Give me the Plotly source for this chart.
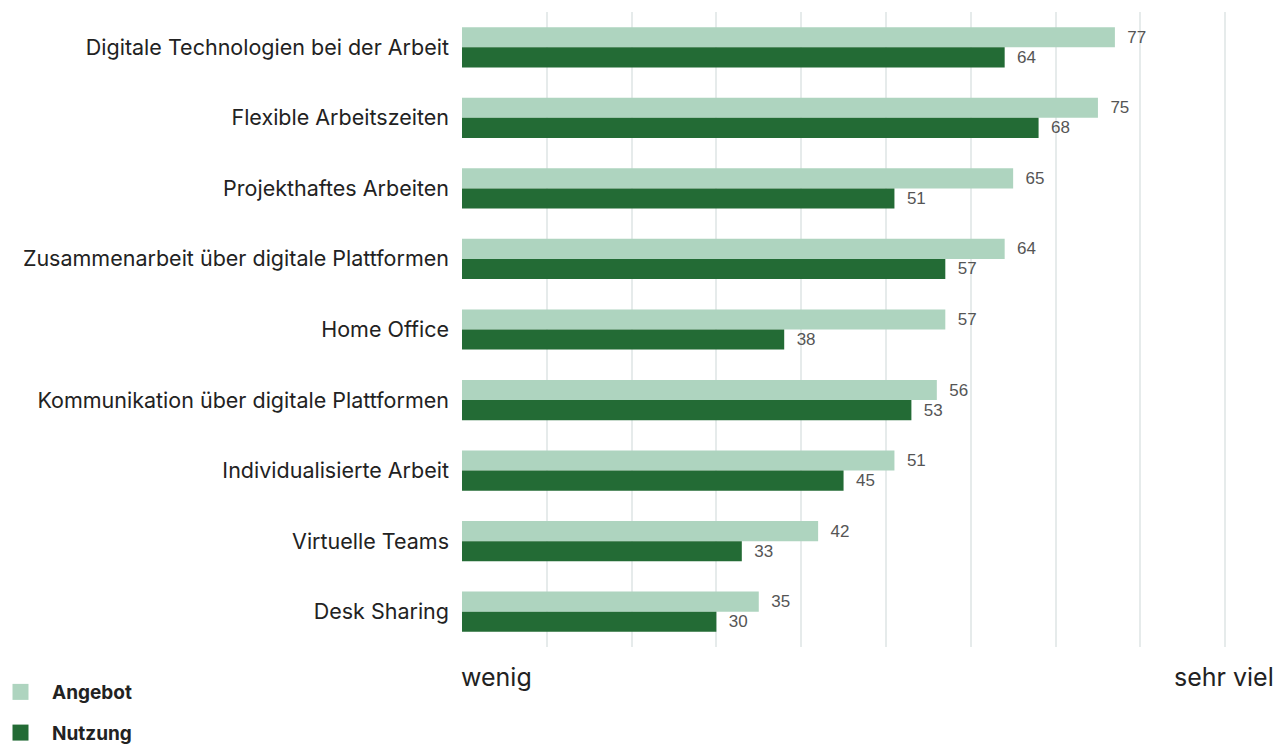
import plotly.graph_objects as go

categories = [
    "Digitale Technologien bei der Arbeit",
    "Flexible Arbeitszeiten",
    "Projekthaftes Arbeiten",
    "Zusammenarbeit über digitale Plattformen",
    "Home Office",
    "Kommunikation über digitale Plattformen",
    "Individualisierte Arbeit",
    "Virtuelle Teams",
    "Desk Sharing",
]
angebot = [77, 75, 65, 64, 57, 56, 51, 42, 35]
nutzung = [64, 68, 51, 57, 38, 53, 45, 33, 30]
series_names = ["Angebot", "Nutzung"]
axis_labels = ["wenig", "sehr viel"]

c_light = "#aed4bf"
c_dark = "#236b35"
font_main = "Inter, Open Sans, sans-serif"

fig = go.Figure()
for name, vals, col in [(series_names[0], angebot, c_light), (series_names[1], nutzung, c_dark)]:
    fig.add_trace(go.Bar(
        y=categories, x=vals, orientation="h", name=name,
        marker=dict(color=col, line=dict(width=0)),
        text=["\u00a0\u00a0" + str(v) for v in vals], textposition="outside",
        textfont=dict(family="Liberation Sans Narrow, Liberation Sans, Arial, sans-serif", size=17, color="#555555"),
        cliponaxis=False, showlegend=False,
    ))
    fig.add_trace(go.Scatter(
        x=[None], y=[None], mode="markers", name=name,
        marker=dict(symbol="square", size=20, color=col),
        legendgroup=name, showlegend=True,
    ))

fig.update_layout(
    width=1287, height=749,
    margin=dict(l=462, r=11, t=12, b=102, autoexpand=False),
    paper_bgcolor="white", plot_bgcolor="white",
    barmode="group", bargap=0.43, bargroupgap=0,
    font=dict(family=font_main, size=20, color="#222222"),
    xaxis=dict(range=[0, 96], tickvals=list(range(0, 100, 10)), showticklabels=False,
               showgrid=True, gridcolor="#e6ebeb", gridwidth=2, zeroline=False),
    yaxis=dict(autorange="reversed", showgrid=False, ticks="", ticklen=0, automargin=False,
               ticklabelstandoff=12,
               tickfont=dict(family=font_main, size=21.5, color="#222222")),
    legend=dict(x=-473/814, y=-0.041, xanchor="left", yanchor="top",
                orientation="v", traceorder="grouped", tracegroupgap=13,
                font=dict(family=font_main, size=19, color="#222222", weight="bold"),
                itemwidth=53),
    annotations=[
        dict(x=0, y=-0.02, xref="x", yref="paper", text=axis_labels[0], showarrow=False,
             xanchor="left", yanchor="top", xshift=-3,
             font=dict(family=font_main, size=25, color="#222222")),
        dict(x=1, y=-0.02, xref="paper", yref="paper", text=axis_labels[1], showarrow=False,
             xanchor="right", yanchor="top",
             font=dict(family=font_main, size=25, color="#222222")),
    ],
)
fig.write_html("out.html", config={"displayModeBar": False},
               post_script="document.body.style.margin='0';")
